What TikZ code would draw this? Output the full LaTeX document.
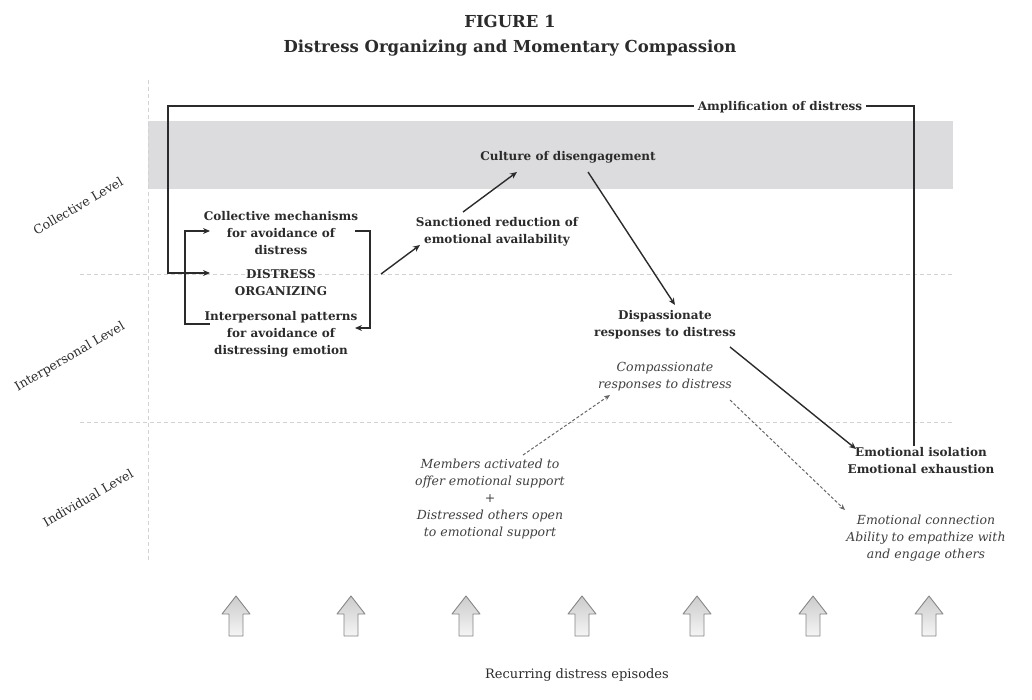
\documentclass[tikz,border=0pt]{standalone}
\usepackage{fontspec}
\setmainfont{DejaVu Serif}
\usetikzlibrary{arrows.meta}
\definecolor{ink}{HTML}{2B2B2B}
\definecolor{band}{HTML}{DCDCDE}
\definecolor{guidec}{HTML}{D2D2D2}
\begin{document}
\begin{tikzpicture}[x=1pt,y=-1pt,
 lbl/.style={font=\fontsize{12}{17}\selectfont\bfseries, text=ink, align=center, inner sep=1pt},
 ital/.style={font=\fontsize{12.5}{17}\selectfont\itshape, text=ink!90, align=center, inner sep=1pt},
 lvl/.style={font=\fontsize{12.5}{14}\selectfont, text=ink, rotate=30},
 arr/.style={draw=ink, line width=1.4pt, -{Stealth[length=7pt,width=6pt]}},
 darr/.style={draw=gray!80!black, line width=1pt, dash pattern=on 3pt off 2pt, -{Stealth[length=6pt,width=5pt]}},
 guide/.style={draw=guidec, line width=0.8pt, dash pattern=on 4pt off 3pt},
 blk/.style={draw=gray!95, line width=0.9pt, line join=round, top color=gray!40, bottom color=gray!8}]
\path[use as bounding box] (0,0) rectangle (1032,700);
% title
\node[lbl, font=\fontsize{16.5}{25}\selectfont\bfseries] (title) at (510,36) {FIGURE 1\\Distress Organizing and Momentary Compassion};
% band and guides
\fill[band] (148,121) rectangle (953,189);
\draw[guide] (148,80) -- (148,560);
\draw[guide] (80,274) -- (953,274);
\draw[guide] (80,422) -- (953,422);
% level labels
\node[lvl] (lcol) at (78,206) {Collective Level};
\node[lvl] (lint) at (70,357) {Interpersonal Level};
\node[lvl] (lind) at (88,498) {Individual Level};
% nodes
\node[lbl] (coll) at (281,233) {Collective mechanisms\\for avoidance of\\distress};
\node[lbl] (dorg) at (281,283) {DISTRESS\\ORGANIZING};
\node[lbl] (inter) at (281,334) {Interpersonal patterns\\for avoidance of\\distressing emotion};
\node[lbl] (sanc) at (497,232) {Sanctioned reduction of\\emotional availability};
\node[lbl] (cult) at (568,157) {Culture of disengagement};
\node[lbl] (disp) at (665,325) {Dispassionate\\responses to distress};
\node[lbl] (iso) at (921,461) {Emotional isolation\\Emotional exhaustion};
\node[ital] (comp) at (665,377) {Compassionate\\responses to distress};
\node[ital] (memb) at (490,499) {Members activated to\\offer emotional support\\+\\Distressed others open\\to emotional support};
\node[ital] (conn) at (926,538) {Emotional connection\\Ability to empathize with\\and engage others};
% amplification loop
\coordinate (a1) at (914,446);
\coordinate (a2) at (914,106);
\coordinate (a3) at (168,106);
\coordinate (a4) at (168,273);
\coordinate (a5) at (210,273);
\draw[arr] (a1) -- (a2) -- (a3) -- (a4) -- (a5);
\node[lbl, fill=white, inner xsep=4pt] (amp) at (780,107) {Amplification of distress};
% brackets
\coordinate (b1) at (210,324); \coordinate (b2) at (185,324);
\coordinate (b3) at (185,231); \coordinate (b4) at (210,231);
\draw[arr] (b1) -- (b2) -- (b3) -- (b4);
\coordinate (c1) at (355,231); \coordinate (c2) at (370,231);
\coordinate (c3) at (370,328); \coordinate (c4) at (355,328);
\draw[arr] (c1) -- (c2) -- (c3) -- (c4);
% main arrows
\coordinate (s1) at (381,274); \coordinate (s2) at (420,245);
\draw[arr] (s1) -- (s2);
\coordinate (u1) at (463,212); \coordinate (u2) at (517,172);
\draw[arr] (u1) -- (u2);
\coordinate (d1) at (588,172); \coordinate (d2) at (675,305);
\draw[arr] (d1) -- (d2);
\coordinate (e1) at (730,347); \coordinate (e2) at (856,449);
\draw[arr] (e1) -- (e2);
% dashed arrows
\coordinate (m1) at (523,455); \coordinate (m2) at (610,395);
\draw[darr] (m1) -- (m2);
\coordinate (k1) at (730,400); \coordinate (k2) at (845,510);
\draw[darr] (k1) -- (k2);
% block arrows
\foreach \x [count=\i] in {236,351,466,582,697,813,929}{
  \draw[blk] (\x,596) -- (\x+14,614) -- (\x+7,614) -- (\x+7,636) -- (\x-7,636) -- (\x-7,614) -- (\x-14,614) -- cycle;
}
\node[font=\fontsize{13}{15}\selectfont, text=ink] (rec) at (577,675) {Recurring distress episodes};
\end{tikzpicture}
\end{document}
